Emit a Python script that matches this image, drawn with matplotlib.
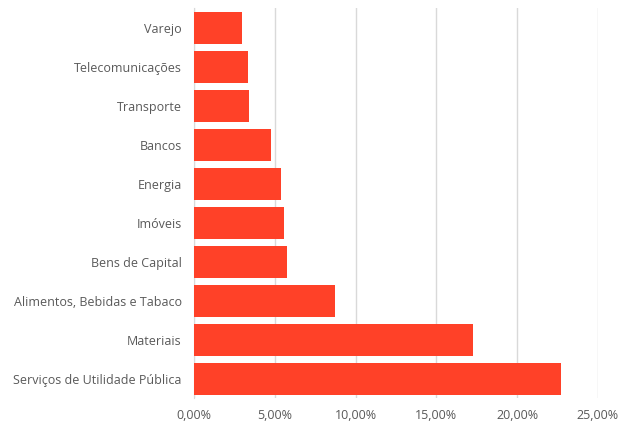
import matplotlib
matplotlib.use("Agg")
import matplotlib.pyplot as plt
from matplotlib.ticker import FuncFormatter

# Sector weights (%)
sectors = ['Varejo', 'Telecomunicações', 'Transporte', 'Bancos', 'Energia',
           'Imóveis', 'Bens de Capital', 'Alimentos, Bebidas e Tabaco',
           'Materiais', 'Serviços de Utilidade Pública']
weights = [2.96, 3.32, 3.40, 4.79, 5.39, 5.58, 5.77, 8.71, 17.25, 22.70]
xticks = [0, 5, 10, 15, 20, 25]

plt.rcParams['font.family'] = ['Open Sans', 'DejaVu Sans']

fig = plt.figure(figsize=(6.33, 4.23), dpi=100)
ax = fig.add_axes([0.3065, 0.059, 0.638, 0.922])

pos = list(range(len(sectors)))[::-1]
ax.barh(pos, weights, height=0.82, color='#FF4128', zorder=3)

ax.set_yticks(pos)
ax.set_yticklabels(sectors)
ax.set_ylim(-0.5, len(sectors) - 0.5)
ax.set_xlim(0, 25)
ax.set_xticks(xticks)
ax.xaxis.set_major_formatter(FuncFormatter(lambda v, p: f'{v:.2f}%'.replace('.', ',')))

ax.grid(axis='x', color='#d9d9d9', linewidth=1, zorder=0)
for s in ['top', 'right', 'bottom']:
    ax.spines[s].set_visible(False)
ax.spines['left'].set_color('#d9d9d9')
ax.tick_params(axis='both', length=0, labelsize=9, labelcolor='#595959')
ax.tick_params(axis='y', pad=9)
ax.tick_params(axis='x', pad=8)

fig.savefig('out.png', dpi=100)
